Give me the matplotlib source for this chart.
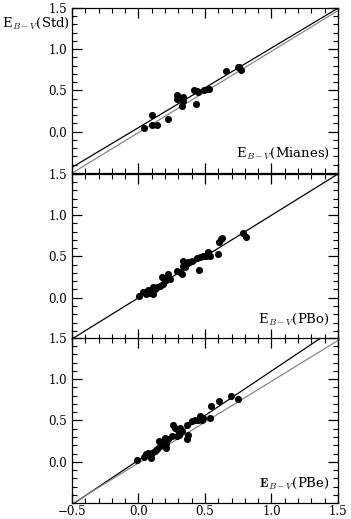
import matplotlib
matplotlib.use("Agg")

import numpy as np
import matplotlib.pyplot as plt
from matplotlib.ticker import MultipleLocator, FixedLocator

plt.rcParams["font.family"] = "DejaVu Serif"
plt.rcParams["mathtext.fontset"] = "cm"

# ---- data ----
mianes_x = [0.04, 0.10, 0.10, 0.14, 0.22, 0.287, 0.29, 0.325, 0.337, 0.337,
            0.417, 0.437, 0.432, 0.45, 0.49, 0.52, 0.53, 0.658, 0.748, 0.755, 0.773]
mianes_y = [0.044, 0.20, 0.077, 0.085, 0.15, 0.44, 0.395, 0.31, 0.42, 0.37,
            0.50, 0.49, 0.335, 0.48, 0.51, 0.52, 0.52, 0.74, 0.79, 0.78, 0.75]

pbo_x = [0.006, 0.036, 0.06, 0.074, 0.086, 0.106, 0.11, 0.124, 0.14, 0.16,
         0.177, 0.187, 0.204, 0.22, 0.224, 0.24, 0.287, 0.312, 0.325, 0.332,
         0.337, 0.35, 0.36, 0.375, 0.40, 0.437, 0.455, 0.462, 0.487, 0.51,
         0.525, 0.54, 0.597, 0.607, 0.625, 0.622, 0.788, 0.808]
pbo_y = [0.02, 0.07, 0.05, 0.09, 0.056, 0.05, 0.13, 0.11, 0.13, 0.14,
         0.25, 0.17, 0.21, 0.29, 0.25, 0.23, 0.33, 0.31, 0.29, 0.45,
         0.39, 0.37, 0.41, 0.43, 0.45, 0.48, 0.34, 0.49, 0.50, 0.51,
         0.55, 0.51, 0.53, 0.68, 0.73, 0.71, 0.79, 0.74]

pbe_x = [-0.014, 0.041, 0.056, 0.074, 0.091, 0.10, 0.124, 0.14, 0.157, 0.16,
         0.18, 0.20, 0.206, 0.21, 0.224, 0.25, 0.257, 0.274, 0.287, 0.30,
         0.307, 0.312, 0.325, 0.362, 0.367, 0.375, 0.40, 0.425, 0.45, 0.462,
         0.475, 0.487, 0.54, 0.548, 0.605, 0.695, 0.745]
pbe_y = [0.02, 0.06, 0.09, 0.11, 0.05, 0.11, 0.13, 0.15, 0.25, 0.19,
         0.21, 0.29, 0.17, 0.22, 0.27, 0.31, 0.44, 0.41, 0.31, 0.39,
         0.33, 0.41, 0.37, 0.45, 0.28, 0.33, 0.49, 0.51, 0.51, 0.55,
         0.51, 0.53, 0.53, 0.68, 0.74, 0.80, 0.76]

# fitted lines: (slope, intercept), black first then grey
panels = [
    (mianes_x, mianes_y, r"E$_{B-V}$(Mianes)", [(0.965, 0.05), (0.985, -0.01)]),
    (pbo_x, pbo_y, r"E$_{B-V}$(PBo)", [(1.0, 0.0)]),
    (pbe_x, pbe_y, r"$\mathbf{E}_{B-V}$(PBe)", [(1.08, 0.02), (0.99, -0.015)]),
]

fig = plt.figure(figsize=(3.51, 5.19), dpi=100)
left, width, height = 0.205, 0.758, 0.318
bottoms = [0.6667, 0.3468, 0.0308]

xx = np.array([-0.6, 1.6])
for i, (xs, ys, label, fits) in enumerate(panels):
    ax = fig.add_axes([left, bottoms[i], width, height])
    for j, (m, b) in enumerate(fits):
        ax.plot(xx, m * xx + b, color="black" if j == 0 else "#888888", lw=0.9)
    ax.scatter(xs, ys, s=26, color="black", zorder=3, linewidths=0)
    ax.set_xlim(-0.5, 1.5)
    ax.set_ylim(-0.5, 1.5)
    ax.xaxis.set_major_locator(MultipleLocator(0.5))
    ax.xaxis.set_minor_locator(MultipleLocator(0.1))
    ax.yaxis.set_major_locator(FixedLocator([0.0, 0.5, 1.0, 1.5]))
    ax.yaxis.set_minor_locator(MultipleLocator(0.1))
    ax.tick_params(which="both", direction="in", top=True, right=True, labelsize=8.5)
    ax.tick_params(which="major", length=7, width=0.9)
    ax.tick_params(which="minor", length=3.5, width=0.8)
    ax.tick_params(axis="x", pad=1.5)
    if i < 2:
        ax.tick_params(labelbottom=False)
    ax.text(0.97, 0.07, label, transform=ax.transAxes, ha="right", va="bottom",
            fontsize=9.5)
    for sp in ax.spines.values():
        sp.set_linewidth(0.9)

fig.text(0.006, 0.956, r"E$_{B-V}$(Std)", ha="left", va="center", fontsize=9.5)

plt.savefig("out.png", dpi=100)
plt.close()
